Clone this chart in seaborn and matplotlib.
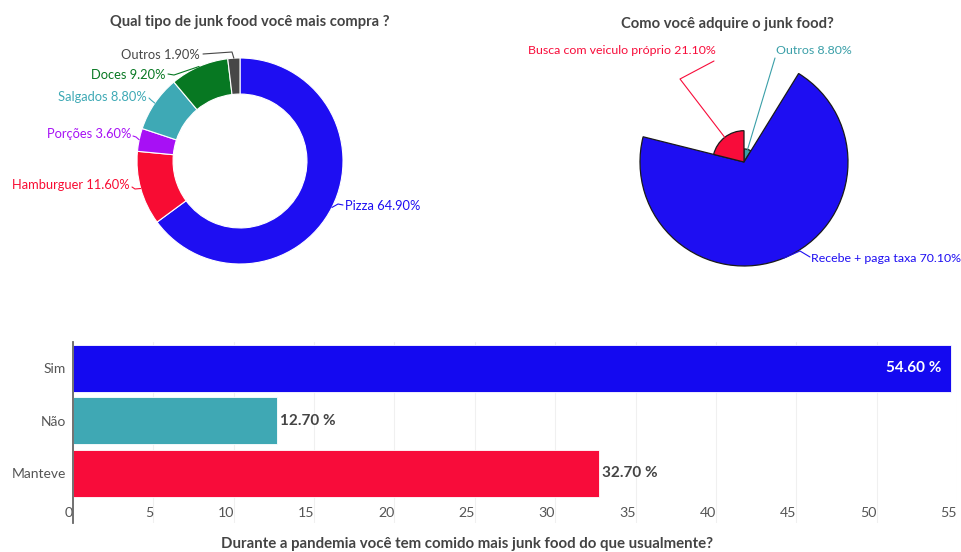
import numpy as np
import pandas as pd
import matplotlib
matplotlib.use("Agg")
import matplotlib.pyplot as plt
import seaborn as sns
from matplotlib import font_manager

# ---------------- data ----------------
tipo_labels = ["Pizza", "Hamburguer", "Porções", "Salgados", "Doces", "Outros"]
tipo_values = [64.9, 11.6, 3.6, 8.8, 9.2, 1.9]

modo_labels = ["Outros", "Recebe + paga taxa", "Busca com veiculo próprio"]
modo_values = [8.8, 70.1, 21.1]

resposta_labels = ["Sim", "Não", "Manteve"]
resposta_values = [54.6, 12.7, 32.7]
x_ticks = [0, 5, 10, 15, 20, 25, 30, 35, 40, 45, 50, 55]

# ---------------- style ----------------
tipo_colors = ["#1e0ef2", "#f80c33", "#a710f5", "#3ea9b5", "#077822", "#474747"]
modo_colors = ["#3a9fa8", "#1e0ef2", "#f80c3a"]
resposta_colors = ["#1409f0", "#3fa8b4", "#f80c3a"]

sns.set_theme(style="white")

installed = {f.name for f in font_manager.fontManager.ttflist}


def pick(*names):
    for n in names:
        if n in installed:
            return n
    return "DejaVu Sans"


LABEL_FONT = pick("Lato", "Roboto", "DejaVu Sans")
BOLD_FONT = pick("Lato", "Open Sans", "DejaVu Sans")
plt.rcParams["font.family"] = [LABEL_FONT, "DejaVu Sans"]

W, H = 962, 552
fig = plt.figure(figsize=(W / 100, H / 100), dpi=100)
fig.patch.set_facecolor("white")


def frac(x, y, w, h):
    """pixel box measured from the top-left corner -> figure fraction"""
    return [x / W, 1 - (y + h) / H, w / W, h / H]


def to_px(ax, pt):
    dx, dy = ax.transData.transform(pt)
    return dx, H - dy


TEXT = "#444444"
DONUT_LABEL_SIZE = 9.3
ROSE_LABEL_SIZE = 8.9

# ---------------- donut: tipo de junk food ----------------
dc, dr = (240, 161), 103
half = 1.25 * dr
axd = fig.add_axes(frac(dc[0] - half, dc[1] - half, 2 * half, 2 * half))
wedges, _ = axd.pie(tipo_values, colors=tipo_colors, startangle=90,
                    counterclock=False, radius=1,
                    wedgeprops=dict(width=0.35, edgecolor="white", linewidth=0.8))
axd.set_xlim(-1.25, 1.25)
axd.set_ylim(-1.25, 1.25)
axd.set_aspect("equal")

# ---------------- rose: como adquire ----------------
rc, rpx = (744, 162), 104 / max(modo_values)
rbox = 120
axr = fig.add_axes(frac(rc[0] - rbox, rc[1] - rbox, 2 * rbox, 2 * rbox), projection="polar")
axr.set_theta_zero_location("N")
axr.set_theta_direction(-1)
fr = np.array(modo_values) / sum(modo_values)
starts = np.concatenate([[0], np.cumsum(fr)[:-1]]) * 2 * np.pi
widths = fr * 2 * np.pi
axr.bar(starts, modo_values, width=widths, align="edge", color=modo_colors,
        edgecolor="#1a1a1a", linewidth=0.9)
axr.set_ylim(0, rbox / rpx)
axr.axis("off")

# ---------------- bars: pandemia ----------------
axb = fig.add_axes(frac(73, 342, 957 - 73, 523 - 342))
df = pd.DataFrame({"resposta": resposta_labels, "valor": resposta_values})
sns.barplot(data=df, x="valor", y="resposta", hue="resposta", palette=resposta_colors,
            orient="h", width=0.9, saturation=1, legend=False, ax=axb,
            edgecolor="white", linewidth=0.6)
axb.set_xlim(0, 55)
axb.set_ylim(2.95, -0.5)
axb.set_xticks(x_ticks)
axb.set_xticklabels([str(t) for t in x_ticks], ha="right")
axb.tick_params(axis="x", length=0, pad=-11.5, labelsize=10.2, labelcolor="#555555")
axb.tick_params(axis="y", length=0, pad=5, labelsize=10, labelcolor="#555555")
for s in ["top", "right", "bottom"]:
    axb.spines[s].set_visible(False)
axb.spines["left"].set_color("#666666")
axb.spines["left"].set_linewidth(1.3)
axb.xaxis.grid(True, color="#f0f0f0", linewidth=0.8)
axb.set_axisbelow(True)
axb.set_ylabel("")
axb.set_xlabel("Durante a pandemia você tem comido mais junk food do que usualmente?",
               fontfamily=BOLD_FONT, fontweight="bold", fontsize=10.8, color=TEXT)
axb.xaxis.set_label_coords((467 - 73) / (957 - 73), -0.075)
for i, v in enumerate(resposta_values):
    if v > 50:
        axb.text(v - 0.55, i, f"{v:.2f} %", ha="right", va="center", color="white",
                 fontfamily=BOLD_FONT, fontweight="bold", fontsize=11)
    else:
        axb.text(v + 0.2, i, f"{v:.2f} %", ha="left", va="center", color=TEXT,
                 fontfamily=BOLD_FONT, fontweight="bold", fontsize=11)

# ---------------- overlay: titles, labels, leader lines ----------------
ov = fig.add_axes([0, 0, 1, 1])
ov.set_xlim(0, W)
ov.set_ylim(H, 0)
ov.axis("off")

ov.text(250, 22, "Qual tipo de junk food você mais compra ?", ha="center", va="center",
        fontfamily=BOLD_FONT, fontweight="bold", fontsize=10.6, color=TEXT)
ov.text(727, 24, "Como você adquire o junk food?", ha="center", va="center",
        fontfamily=BOLD_FONT, fontweight="bold", fontsize=10.6, color=TEXT)

# leader-line path (after the anchor) and text position for each donut label
donut_layout = {
    "Pizza": ([(338, 204), (343, 205)], (345, 206), "left"),
    "Hamburguer": ([(135, 189), (132, 187)], (130, 185), "right"),
    "Porções": ([(136, 137), (133, 136)], (131, 134), "right"),
    "Salgados": ([(151, 100), (149, 98)], (147, 97), "right"),
    "Doces": ([(174, 75), (168, 74)], (166, 75), "right"),
    "Outros": ([(232, 52), (203, 54)], (200, 55), "right"),
}
for w, lab, val, col in zip(wedges, tipo_labels, tipo_values, tipo_colors):
    mid = np.deg2rad((w.theta1 + w.theta2) / 2)
    ax0, ay0 = to_px(axd, (np.cos(mid), np.sin(mid)))
    path, (tx, ty), ha = donut_layout[lab]
    xs = [ax0] + [p[0] for p in path]
    ys = [ay0] + [p[1] for p in path]
    ov.plot(xs, ys, color=col, lw=0.8)
    ov.text(tx, ty, f"{lab} {val:.2f}%", ha=ha, va="center", color=col,
            fontsize=DONUT_LABEL_SIZE)

rose_layout = {
    "Outros": ([(775, 58)], (776, 51), "left"),
    "Recebe + paga taxa": ([(800, 251), (810, 257)], (811, 258), "left"),
    "Busca com veiculo próprio": ([(680, 79), (714, 61)], (716, 51), "right"),
}
for s, wd, lab, val, col in zip(starts, widths, modo_labels, modo_values, modo_colors):
    ax0, ay0 = to_px(axr, (s + wd / 2, val))
    path, (tx, ty), ha = rose_layout[lab]
    xs = [ax0] + [p[0] for p in path]
    ys = [ay0] + [p[1] for p in path]
    ov.plot(xs, ys, color=col, lw=0.8)
    ov.text(tx, ty, f"{lab} {val:.2f}%", ha=ha, va="center", color=col,
            fontsize=ROSE_LABEL_SIZE)

fig.savefig("out.png", dpi=100)
